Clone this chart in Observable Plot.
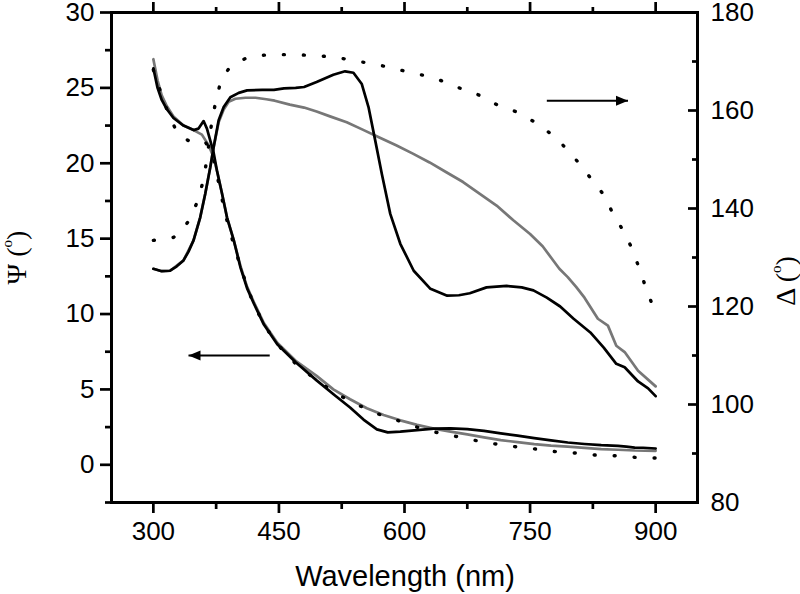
<!DOCTYPE html>
<html><head><meta charset="utf-8">
<script src="https://cdn.jsdelivr.net/npm/d3@7"></script>
<script src="https://cdn.jsdelivr.net/npm/@observablehq/plot@0.6"></script>
<style>html,body{margin:0;padding:0;background:#fff}svg{display:block}</style>
</head><body><div id="chart"></div>
<script>
// ---- Ψ series (left axis, degrees) ----
const psiBlackWl = [300,305,310,316,324,336,348,354,360,364,368,372,376,382,388,396,404,412,420,432,448,470,495,517,535,551,567,580,595,615,635,655,675,695,715,735,755,775,795,815,835,855,865,875,885,900];
const psiBlack   = [26.3,25.0,24.2,23.6,23.0,22.5,22.2,22.3,22.8,22.3,21.5,20.7,19.5,18.0,16.4,14.9,13.1,11.7,10.7,9.3,8.0,6.8,5.6,4.6,3.8,3.0,2.35,2.15,2.2,2.3,2.4,2.42,2.37,2.25,2.08,1.93,1.77,1.62,1.48,1.38,1.3,1.25,1.2,1.14,1.13,1.08];

const psiGrayWl = [300,305,310,316,324,336,348,358,366,372,376,382,388,396,404,412,420,432,448,470,495,515,535,555,575,595,615,635,655,675,695,715,735,755,775,795,815,835,855,875,900];
const psiGray   = [26.9,25.5,24.5,23.8,23.1,22.5,22.2,21.9,21.2,20.4,19.5,18.0,16.4,14.9,13.2,11.8,10.8,9.4,8.1,6.9,5.9,5.0,4.35,3.75,3.3,2.95,2.65,2.4,2.2,2.02,1.82,1.64,1.5,1.37,1.27,1.2,1.12,1.04,1.0,0.95,0.93];

const psiDotWl = [300,310,320,330,342,353,362,370,378,386,396,406,418,432,448,470,495,519,543,567,591,615,638,662,686,710,734,758,782,805,829,853,879,900];
const psiDot   = [26.2,24.5,23.0,21.9,21.5,21.6,21.4,20.8,18.7,16.6,14.6,12.8,10.9,9.3,8.0,6.7,5.6,4.7,4.0,3.4,2.96,2.5,2.15,1.88,1.6,1.37,1.19,1.04,0.86,0.78,0.64,0.6,0.48,0.45];

// ---- Δ series (right axis, degrees) ----
const deltaBlackWl = [300,310,320,328,336,342,348,356,362,368,372,378,384,392,402,412,430,444,456,470,480,495,515,529,539,549,557,565,573,583,595,611,631,651,665,678,698,722,740,754,770,786,802,822,838,853,863,879,891,900];
const deltaBlack   = [127.7,127.2,127.3,128.2,129.4,131.2,133.5,138.2,143.0,148.4,152.5,158.0,160.7,162.7,163.6,164.1,164.2,164.2,164.5,164.6,164.8,165.8,167.3,168.0,167.7,165.4,160.7,153.9,147.0,138.9,132.8,127.3,123.6,122.2,122.3,122.7,123.9,124.2,123.9,123.3,121.8,120.0,117.5,114.7,111.6,108.3,107.6,104.7,103.3,101.7];

const deltaGrayWl = [300,310,320,336,348,356,362,368,372,378,384,390,398,410,422,435,445,463,480,495,511,531,550,570,590,610,630,650,670,690,710,730,750,765,775,785,795,805,815,831,843,853,863,879,900];
const deltaGray   = [127.7,127.2,127.3,129.4,133.5,138.2,143.0,148.4,152.5,157.6,160.2,161.8,162.4,162.6,162.6,162.3,162.0,161.2,160.6,159.8,158.8,157.6,156.1,154.5,152.9,151.2,149.4,147.4,145.4,143.0,140.6,137.6,134.8,132.3,130.0,127.7,126.0,124.0,121.8,117.5,116.1,112.0,110.7,106.9,103.7];

const deltaDotWl = [300,312,324,334,344,354,360,364,370,375,381,390,399,410,422,445,469,493,517,542,567,591,615,638,662,686,710,734,756,780,801,820,838,850,862,871,880,888,897,900];
const deltaDot   = [133.5,133.7,134.1,135.5,137.9,142.0,146.0,150.1,158.0,162.2,166.3,168.5,169.7,170.6,171.2,171.4,171.4,171.2,170.9,170.1,169.4,168.4,167.5,166.5,164.8,163.4,161.2,159.7,157.6,154.6,150.8,146.7,142.8,138.6,135.3,132.1,128.0,124.0,119.9,118.8];

// ---- axes / ticks ----
const xDomain = [250, 950];
const xMajorTicks = [300, 450, 600, 750, 900];
const xMinorTicks = [375, 525, 675, 825];
const psiDomain = [-2.5, 30];
const psiMajorTicks = [0, 5, 10, 15, 20, 25, 30];
const psiMinorTicks = [-2.5, 2.5, 7.5, 12.5, 17.5, 22.5, 27.5];
const deltaDomain = [80, 180];
const deltaMajorTicks = [80, 100, 120, 140, 160, 180];
const deltaMinorTicks = [90, 110, 130, 150, 170];

// ---- annotation arrows (which axis they point to) ----
const arrows = [
  {from: 770, to: 867, value: 162, axis: "delta"},
  {from: 439, to: 342, value: 7.25, axis: "psi"}
];

const toPsi = d => psiDomain[0] + (d - deltaDomain[0]) * (psiDomain[1] - psiDomain[0]) / (deltaDomain[1] - deltaDomain[0]);
const toDelta = p => deltaDomain[0] + (p - psiDomain[0]) * (deltaDomain[1] - deltaDomain[0]) / (psiDomain[1] - psiDomain[0]);

const series = (wl, vals, conv = v => v) => wl.map((w, i) => ({wl: w, v: conv(vals[i])}));
const sPsiBlack = series(psiBlackWl, psiBlack);
const sPsiGray = series(psiGrayWl, psiGray);
const sPsiDot = series(psiDotWl, psiDot);
const sDeltaBlack = series(deltaBlackWl, deltaBlack, toPsi);
const sDeltaGray = series(deltaGrayWl, deltaGray, toPsi);
const sDeltaDot = series(deltaDotWl, deltaDot, toPsi);

const arrowRows = arrows.map(a => ({...a, y: a.axis === "delta" ? toPsi(a.value) : a.value}));
const arrowHead = {draw(ctx) { ctx.moveTo(0, 0); ctx.lineTo(-12, -5); ctx.lineTo(-12, 5); ctx.closePath(); }};

const GRAY = "#777777";
const LW = 2.7;
const AX = 2.7;
const FS = 26;
const DOTTED = {stroke: "black", strokeWidth: 3.4, strokeLinecap: "round", strokeDasharray: "1,19"};

const plot = Plot.plot({
  width: 800, height: 594,
  marginLeft: 111, marginRight: 103, marginTop: 12, marginBottom: 92,
  style: {fontFamily: "'Liberation Sans', Arial, sans-serif", background: "white", color: "black"},
  x: {domain: xDomain},
  y: {domain: psiDomain},
  marks: [
    Plot.line(sPsiGray, {x: "wl", y: "v", stroke: GRAY, strokeWidth: LW}),
    Plot.line(sDeltaGray, {x: "wl", y: "v", stroke: GRAY, strokeWidth: LW}),
    Plot.line(sPsiBlack, {x: "wl", y: "v", stroke: "black", strokeWidth: LW}),
    Plot.line(sDeltaBlack, {x: "wl", y: "v", stroke: "black", strokeWidth: LW}),
    Plot.line(sPsiDot, {x: "wl", y: "v", ...DOTTED}),
    Plot.line(sDeltaDot, {x: "wl", y: "v", ...DOTTED}),
    // arrows
    Plot.link(arrowRows, {x1: "from", x2: "to", y1: "y", y2: "y", stroke: "black", strokeWidth: 2}),
    Plot.dot(arrowRows, {x: "to", y: "y", symbol: arrowHead, fill: "black", stroke: "none", rotate: d => d.to > d.from ? 0 : 180}),
    // frame
    Plot.frame({stroke: "black", strokeWidth: 3}),
    // bottom axis
    Plot.axisX({anchor: "bottom", ticks: xMajorTicks, tickSize: 11, tickPadding: 8, fontSize: FS, strokeWidth: AX, label: null}),
    Plot.axisX({anchor: "bottom", ticks: xMinorTicks, tickSize: 7, fill: "none", strokeWidth: AX, label: null}),
    // top axis (ticks only)
    Plot.axisX({anchor: "top", ticks: xMajorTicks, tickSize: 11, fill: "none", strokeWidth: AX, label: null}),
    Plot.axisX({anchor: "top", ticks: xMinorTicks, tickSize: 6, fill: "none", strokeWidth: AX, label: null}),
    // left axis Ψ
    Plot.axisY({anchor: "left", ticks: psiMajorTicks, tickSize: 11, tickPadding: 6, fontSize: FS, strokeWidth: AX, label: null}),
    Plot.axisY({anchor: "left", ticks: psiMinorTicks, tickSize: 6, fill: "none", strokeWidth: AX, label: null}),
    // right axis Δ (inward ticks)
    Plot.axisY({anchor: "right", ticks: deltaMajorTicks.map(toPsi), tickSize: 10, dx: -10, fill: "none", strokeWidth: AX, label: null}),
    Plot.axisY({anchor: "right", ticks: deltaMinorTicks.map(toPsi), tickSize: 6, dx: -6, fill: "none", strokeWidth: AX, label: null}),
    Plot.axisY({anchor: "right", ticks: deltaMajorTicks.map(toPsi), tickSize: 0, tickPadding: 13, fontSize: FS,
      tickFormat: p => String(Math.round(toDelta(p))), label: null})
  ]
});

document.getElementById("chart").appendChild(plot);

const svg = d3.select(plot);
svg.append("text")
  .attr("x", 405).attr("y", 586)
  .attr("text-anchor", "middle")
  .attr("font-family", "'Liberation Sans', Arial, sans-serif")
  .attr("font-size", 29)
  .attr("fill", "black")
  .text("Wavelength (nm)");

function sideLabel(symbol, x, y) {
  const t = svg.append("text")
    .attr("transform", `translate(${x},${y}) rotate(-90)`)
    .attr("text-anchor", "middle")
    .attr("font-family", "'Liberation Serif', 'Times New Roman', serif")
    .attr("font-size", 28)
    .attr("fill", "black");
  t.append("tspan").text(symbol + " (");
  t.append("tspan").attr("font-size", 15).attr("dy", -14).text("o");
  t.append("tspan").attr("dy", 14).text(")");
}
sideLabel("Ψ", 26, 257.5);
sideLabel("Δ", 795, 281);
</script>
</body></html>
